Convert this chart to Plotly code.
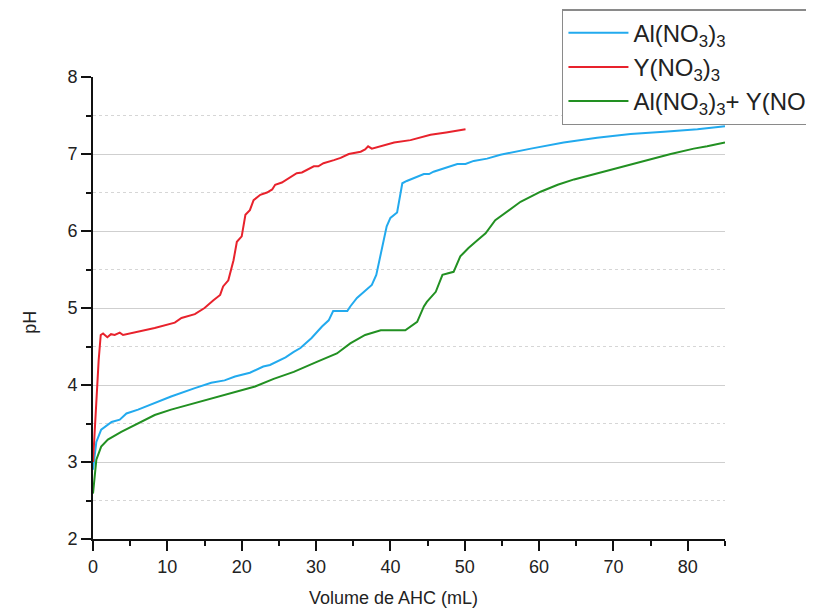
import plotly.graph_objects as go

# Y(NO3)3
x_y = [0, 0.45, 0.76, 1.04, 1.35, 1.93, 2.42, 2.92, 3.6, 4.04, 6.06, 8.3, 11.0, 11.9, 13.7, 15.0,
       16.2, 17.1, 17.5, 18.2, 18.9, 19.35, 20.0, 20.5, 21.1, 21.6, 22.5, 23.4, 24.1, 24.5, 25.4,
       26.5, 27.4, 28.1, 29.7, 30.3, 31.0, 32.4, 33.3, 34.4, 36.0, 36.6, 37.0, 37.5, 38.7, 40.5,
       42.7, 45.4, 47.5, 50.1]
ph_y = [3.0, 3.8, 4.32, 4.65, 4.67, 4.62, 4.66, 4.65, 4.68, 4.65, 4.69, 4.74, 4.81, 4.87, 4.92, 5.0,
        5.10, 5.17, 5.28, 5.36, 5.62, 5.86, 5.93, 6.21, 6.27, 6.40, 6.47, 6.50, 6.54, 6.60, 6.63,
        6.70, 6.75, 6.76, 6.84, 6.84, 6.88, 6.92, 6.95, 7.0, 7.03, 7.06, 7.10, 7.07, 7.10, 7.15,
        7.18, 7.25, 7.28, 7.32]

# Al(NO3)3
x_al = [0, 0.45, 1.1, 2.5, 3.6, 4.5, 6.06, 8.3, 10.5, 13.7, 15.9, 17.7, 19.1, 21.1, 22.9, 23.8,
        25.9, 27.0, 27.9, 29.4, 30.8, 31.7, 32.3, 34.2, 34.6, 35.5, 36.6, 37.5, 38.1, 38.9, 39.5,
        40.0, 40.9, 41.6, 42.2, 44.5, 45.2, 45.8, 49.0, 50.1, 51.2, 53.0, 54.8, 58.9, 63.3, 67.8,
        72.3, 76.8, 81.3, 85.0]
ph_al = [2.9, 3.26, 3.42, 3.52, 3.55, 3.63, 3.68, 3.77, 3.85, 3.96, 4.03, 4.06, 4.11, 4.16, 4.24, 4.26,
         4.36, 4.43, 4.48, 4.61, 4.76, 4.84, 4.96, 4.96, 5.02, 5.13, 5.22, 5.30, 5.43, 5.80, 6.06,
         6.17, 6.24, 6.62, 6.65, 6.74, 6.74, 6.77, 6.87, 6.87, 6.91, 6.94, 6.99, 7.07, 7.15, 7.21,
         7.26, 7.29, 7.32, 7.36]

# Al(NO3)3 + Y(NO3)3
x_mix = [0, 0.45, 1.1, 2.0, 3.8, 6.06, 8.3, 10.5, 12.8, 15.0, 17.3, 19.5, 21.8, 24.3, 27.0, 30.1,
         32.8, 34.6, 36.6, 38.7, 42.0, 43.6, 44.5, 44.9, 46.1, 47.0, 48.5, 49.4, 50.5, 51.7, 52.8,
         54.1, 55.7, 57.5, 60.2, 62.5, 64.7, 67.8, 71.4, 74.6, 77.7, 80.8, 82.6, 85.0]
ph_mix = [2.59, 3.03, 3.20, 3.29, 3.39, 3.50, 3.61, 3.68, 3.74, 3.80, 3.86, 3.92, 3.98, 4.08, 4.17, 4.30,
          4.41, 4.54, 4.65, 4.71, 4.71, 4.82, 5.02, 5.08, 5.21, 5.43, 5.47, 5.67, 5.78, 5.88, 5.97,
          6.14, 6.25, 6.38, 6.51, 6.60, 6.67, 6.75, 6.84, 6.92, 7.0, 7.07, 7.10, 7.15]

names = ["Al(NO<sub>3</sub>)<sub>3</sub>", "Y(NO<sub>3</sub>)<sub>3</sub>",
         "Al(NO<sub>3</sub>)<sub>3</sub>+ Y(NO<sub>3</sub>)<sub>3</sub>"]
colors = ["#22aaee", "#e8222c", "#229022"]

major_grid = [3, 4, 5, 6, 7]
minor_grid = [2.5, 3.5, 4.5, 5.5, 6.5, 7.5]

FONT = "Arial, Liberation Sans, sans-serif"

fig = go.Figure()
fig.add_trace(go.Scatter(x=x_al, y=ph_al, mode="lines", name=names[0],
                         line=dict(color=colors[0], width=2)))
fig.add_trace(go.Scatter(x=x_y, y=ph_y, mode="lines", name=names[1],
                         line=dict(color=colors[1], width=2)))
fig.add_trace(go.Scatter(x=x_mix, y=ph_mix, mode="lines", name=names[2],
                         line=dict(color=colors[2], width=2)))
# empty trace to activate the grid-only overlay axis
fig.add_trace(go.Scatter(x=[], y=[], yaxis="y2", showlegend=False, hoverinfo="skip"))

fig.update_layout(
    width=814, height=613,
    margin=dict(l=85, r=97, t=69, b=82, autoexpand=False),
    plot_bgcolor="white", paper_bgcolor="white",
    font=dict(family=FONT, size=17, color="#222"),
    xaxis=dict(range=[0, 85], tick0=0, dtick=10, ticks="outside", ticklen=10, tickwidth=2,
               tickcolor="#111", showline=True, linewidth=2, linecolor="#111",
               showgrid=False, zeroline=False,
               tickfont=dict(size=18, color="#222"),
               minor=dict(tick0=0, dtick=5, ticks="outside", ticklen=5, tickwidth=2,
                          tickcolor="#111", showgrid=False)),
    yaxis=dict(range=[2, 8], tick0=2, dtick=1, ticks="outside", ticklen=10, tickwidth=2,
               tickcolor="#111", showline=True, linewidth=2, linecolor="#111",
               showgrid=False, zeroline=False,
               tickfont=dict(size=18, color="#222"),
               minor=dict(tick0=2, dtick=0.5, ticks="outside", ticklen=5, tickwidth=2,
                          tickcolor="#111", showgrid=False)),
    yaxis2=dict(overlaying="y", range=[2, 8], tickmode="array", tickvals=major_grid,
                showticklabels=False, ticks="", showline=False, zeroline=False,
                showgrid=True, gridcolor="#cfcfcf", gridwidth=1.3,
                minor=dict(tickmode="array", tickvals=minor_grid, ticks="", showgrid=True,
                           gridcolor="#d6d6d6", griddash="dot", gridwidth=1.2)),
    legend=dict(x=0.742, y=1.147, xanchor="left", yanchor="top",
                bordercolor="#8a8a8a", borderwidth=1.5, bgcolor="white",
                font=dict(family=FONT, size=24, color="#222"),
                itemwidth=60, tracegroupgap=0),
    showlegend=True,
    annotations=[
        dict(text="pH", xref="paper", yref="paper", x=-0.0997, y=0.47, textangle=-90,
             xanchor="center", yanchor="middle",
             showarrow=False, font=dict(family=FONT, size=18, color="#222")),
        dict(text="Volume de AHC (mL)", xref="paper", yref="paper", x=0.476, y=-0.128,
             xanchor="center", yanchor="middle",
             showarrow=False, font=dict(family=FONT, size=18, color="#222")),
    ],
)

fig.write_html("out.html")
